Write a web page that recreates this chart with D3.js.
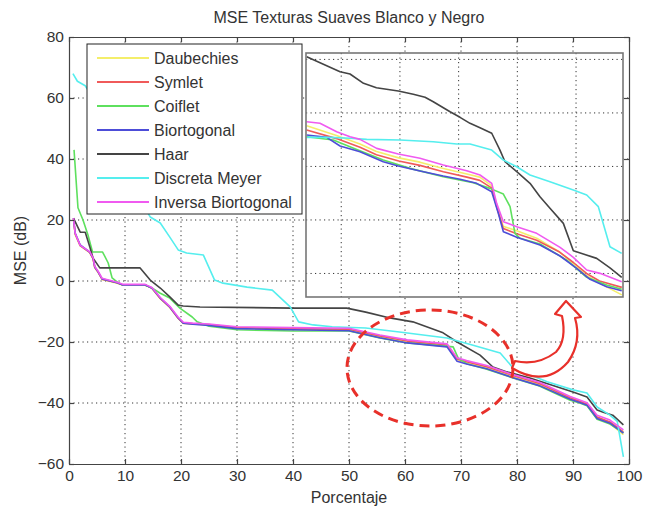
<!DOCTYPE html>
<html lang="en">
<head>
  <meta charset="UTF-8">
  <title>MSE Texturas Suaves</title>
  <style>
    body{margin: 0; background: #fff;}
    svg{display: block; font-family: "Liberation Sans", Arial, Helvetica, sans-serif;}
    .axis path, .axis line{stroke: #444; stroke-width: 1.2px;}
    .axis text{fill: #333; font-size: 15.5px;}
    .grid line{stroke: #333; stroke-width: 1px; stroke-dasharray: 1.2,3.3;}
  </style>
</head>
<body>
  <div id="chart"></div>
  <script src="https://d3js.org/d3.v7.min.js"></script>
  <script>
  // DATA (percent, MSE dB)
  const names = ["Daubechies", "Symlet", "Coiflet", "Biortogonal", "Haar", "Discreta Meyer", "Inversa Biortogonal"];
  const colors = ["#f4ee6a", "#f05a5a", "#5ee05e", "#4d4dd8", "#444444", "#55eeee", "#f05af0"];
  const xTicks = [0, 10, 20, 30, 40, 50, 60, 70, 80, 90, 100];
  const yTicks = [-60, -40, -20, 0, 20, 40, 60, 80];

  const daubechies = [[0.8,20.4],[1.1,15.2],[2,11.5],[3.7,9.3],[4.3,7.2],[4.6,4.3],[5.2,2.8],[5.9,0.5],[8.6,-0.7],[9.6,-1.4],[13.6,-1.4],[14.8,-2.4],[16.3,-5.8],[18,-8.7],[19.5,-12.3],[20.4,-13.9],[22.1,-14.1],[25,-14.5],[30,-15.4],[40,-15.7],[50,-15.9],[55.5,-18.2],[60.4,-19.8],[67.5,-21.1],[69.3,-25.7],[71,-26.6],[74.6,-28.3],[79.3,-31.3],[84,-33.9],[89.5,-38.6],[91.2,-39.7],[92.5,-40.6],[94.3,-45.0],[96.6,-46.8],[99,-50.4]];
  const symlet = [[0.8,20.5],[1.1,15.5],[2,11.6],[3.7,9.4],[4.3,7.3],[4.6,4.5],[5.2,2.9],[5.9,0.6],[8.6,-0.6],[9.6,-1.3],[13.6,-1.3],[14.8,-2.3],[16.3,-5.7],[18,-8.6],[19.5,-12.2],[20.4,-13.8],[22.1,-14.0],[25,-14.3],[30,-15.3],[40,-15.6],[50,-15.8],[55.5,-18.0],[60.4,-19.7],[67.5,-21.0],[69.3,-25.6],[71,-26.5],[74.6,-28.1],[79.3,-31.0],[84,-33.6],[89.5,-38.3],[91.2,-39.4],[92.5,-40.3],[94.3,-44.6],[96.6,-46.2],[99,-49.5]];
  const coiflet = [[0.9,43],[1.6,24],[2.5,20],[3.4,15],[4.2,9.5],[6,9.5],[7,5.9],[7.7,1],[8.8,-0.6],[9.6,-1.3],[13.6,-1.3],[14.8,-2.3],[16.3,-4],[18,-5.6],[19.8,-8.9],[22,-11.8],[22.9,-13.4],[25,-14.8],[30,-16],[40,-16.4],[50,-16.4],[55.5,-18.7],[60.4,-20.3],[68.6,-21.6],[69.5,-25.3],[71,-27.1],[74.6,-28.9],[79.3,-31.8],[84,-34.4],[89.5,-39.1],[91.2,-40.0],[92.5,-40.9],[94.3,-45.3],[96.6,-46.9],[99,-49.8]];
  const biortogonal = [[0.8,20.6],[1.1,15.7],[2,11.8],[3.7,9.5],[4.3,7.5],[4.6,4.6],[5.2,3],[5.9,0.7],[8.6,-0.6],[9.6,-1.3],[13.6,-1.3],[14.8,-2.3],[16.3,-5.6],[18,-8.5],[19.5,-12.1],[20.4,-13.8],[22.1,-14.2],[25,-14.6],[30,-15.6],[40,-16],[50,-16.3],[55.5,-18.6],[60.4,-20.3],[67.5,-21.6],[69.3,-26.3],[71,-27.2],[74.6,-28.8],[79.3,-31.7],[84,-34.3],[89.5,-38.8],[91.2,-39.8],[92.5,-40.7],[94.3,-45.1],[96.6,-46.6],[99,-49.9]];
  const haar = [[0.8,20.6],[2,16],[2.9,16],[3.75,11],[4.3,7.5],[5.5,4.3],[12.7,4.3],[14.5,0.3],[16.3,-2.3],[18,-5.2],[19.5,-7.9],[20.4,-8.2],[23.4,-8.5],[40,-8.9],[49.6,-8.9],[53,-10.2],[57.3,-12.1],[61.4,-13.4],[66.8,-17],[69.3,-20],[73.4,-24.3],[75.7,-28.2],[78.2,-29.8],[82.3,-31.8],[90,-36.4],[92.5,-38],[94.3,-42.3],[95.4,-43],[97.1,-44],[99,-47.2]];
  const meyer = [[0.7,68],[1.5,65.5],[2.9,64],[6,55],[10,35],[14.5,21],[16.3,19],[18,14.4],[19.5,10.2],[21,9.2],[24,8.5],[26,0.3],[27.5,-0.7],[31.8,-2],[36.3,-3],[39.5,-8.5],[41,-13.4],[43.6,-14.4],[47,-15],[53,-15.4],[59,-16.7],[67.5,-18.7],[72,-21],[77,-23.6],[79.3,-28.5],[85.4,-33],[90,-35.7],[92.5,-36.7],[94.3,-41.3],[96.6,-44],[97.9,-46],[99,-57.7]];
  const inversa = [[0.8,20.6],[1.1,15.6],[2,11.7],[3.7,9.6],[4.3,7.6],[4.6,4.8],[5.2,3.2],[5.9,0.9],[8.6,-0.4],[9.6,-1.1],[13.6,-1.1],[14.8,-2.1],[16.3,-5.4],[18,-8.3],[19.5,-11.9],[20.4,-13.5],[22.1,-13.8],[25,-14.1],[30,-15.0],[40,-15.3],[50,-15.5],[55.5,-17.7],[60.4,-19.3],[67.5,-20.6],[69.3,-25.2],[71,-26.1],[74.6,-27.7],[79.3,-30.7],[84,-33.2],[89.5,-37.9],[91.2,-39.0],[92.5,-39.9],[94.3,-44.0],[96.6,-45.6],[99,-48.8]];

  // ZOOM INSET (enlarged detail)
  const insetXTicks = [50, 55, 60, 65, 70];
  const insetYTicks = [-35, -30, -25, -20, -15];
  const inDaubechies = [[47.06,-21.2],[49.6,-22.1],[51.6,-22.9],[53.0,-23.6],[54.9,-24.2],[56.7,-24.6],[58.7,-25.2],[60.7,-25.7],[61.8,-26.0],[62.8,-26.8],[63.3,-28.8],[63.8,-30.6],[64.95,-31.0],[66.65,-31.7],[68.6,-33.0],[69.8,-34.1],[70.9,-35.2],[72.0,-35.9],[73.9,-37.0]];
  const inSymlet = [[47.06,-21.6],[49.6,-22.4],[51.6,-23.2],[53.0,-23.9],[54.9,-24.5],[56.7,-24.9],[58.7,-25.5],[60.7,-26.0],[61.8,-26.3],[62.8,-27.0],[63.3,-29.0],[63.8,-30.8],[64.95,-31.3],[66.65,-31.9],[68.6,-33.0],[69.8,-34.0],[70.9,-35.0],[72.0,-35.7],[73.9,-36.3]];
  const inCoiflet = [[47.06,-22.22],[49.33,-22.53],[51.0,-23.28],[53.58,-24.4],[55.86,-25.18],[58.69,-25.96],[61.25,-26.52],[62.67,-27.05],[63.81,-27.58],[64.38,-28.76],[64.8,-31.25],[65.23,-31.72],[66.93,-32.25],[69.21,-33.75],[70.91,-35.36],[72.61,-36.08],[73.89,-36.48]];
  const inBiortogonal = [[47.06,-22.06],[48.76,-22.28],[49.9,-23.09],[51.6,-23.62],[53.58,-24.56],[54.86,-24.96],[56.71,-25.43],[58.69,-25.9],[60.12,-26.2],[61.54,-26.58],[62.82,-27.36],[63.38,-29.38],[63.81,-31.1],[64.95,-31.62],[66.93,-32.34],[68.64,-33.37],[70.06,-34.52],[71.19,-35.55],[72.61,-36.24],[73.89,-36.61]];
  const inHaar = [[47.06,-14.75],[49.9,-16.15],[50.75,-16.36],[51.9,-17.23],[53.0,-17.64],[54.86,-17.95],[56.14,-18.26],[57.14,-18.54],[57.84,-18.95],[59.27,-19.89],[60.12,-20.41],[60.97,-20.97],[61.82,-21.38],[62.82,-21.9],[63.52,-23.47],[63.95,-24.56],[64.95,-25.49],[66.08,-26.58],[66.93,-27.83],[67.78,-28.91],[68.92,-30.32],[69.77,-32.88],[70.62,-33.18],[71.76,-33.59],[72.89,-34.47],[73.89,-35.36]];
  const inMeyer = [[47.06,-22.28],[49.04,-22.28],[50.75,-22.37],[52.17,-22.47],[55.0,-22.53],[57.84,-22.69],[59.84,-22.9],[60.97,-22.9],[62.82,-23.47],[63.81,-24.4],[64.95,-25.03],[66.08,-25.8],[67.78,-26.43],[69.77,-27.2],[70.91,-27.67],[71.9,-28.76],[72.89,-32.5],[73.89,-33.12]];
  const inInversa = [[47.06,-20.82],[48.19,-20.97],[49.61,-21.76],[50.75,-22.22],[51.6,-22.47],[53.02,-23.31],[54.86,-23.84],[56.71,-24.24],[58.69,-24.87],[60.69,-25.4],[61.82,-25.8],[62.82,-26.58],[63.24,-28.45],[63.81,-30.17],[64.95,-30.63],[66.65,-31.25],[68.64,-32.56],[69.77,-33.49],[70.91,-34.68],[72.04,-34.99],[73.89,-35.77]];

  const mainSeries = [daubechies, symlet, coiflet, biortogonal, haar, meyer, inversa];
  const insetSeries = [inDaubechies, inSymlet, inCoiflet, inBiortogonal, inHaar, inMeyer, inInversa];

  // SETTINGS
  const width = 653;
  const height = 510;
  const margin = {top: 37, right: 24, bottom: 46, left: 69};

  const svg = d3.select("#chart").append("svg")
    .attr("width", width)
    .attr("height", height);

  const x = d3.scaleLinear().domain([0, 100]).range([margin.left, width - margin.right]);
  const y = d3.scaleLinear().domain([-60, 80]).range([height - margin.bottom, margin.top]);

  // GRID
  const grid = svg.append("g").attr("class", "grid");
  grid.selectAll(".gx").data(xTicks.slice(1, -1)).join("line")
    .attr("x1", d => x(d)).attr("x2", d => x(d))
    .attr("y1", y(80)).attr("y2", y(-60));
  grid.selectAll(".gy").data(yTicks.slice(1, -1)).join("line")
    .attr("y1", d => y(d)).attr("y2", d => y(d))
    .attr("x1", x(0)).attr("x2", x(100));

  // LINES
  const line = d3.line().x(d => x(d[0])).y(d => y(d[1]));
  svg.append("defs").append("clipPath").attr("id", "clip")
    .append("rect").attr("x", x(0)).attr("y", y(80)).attr("width", x(100) - x(0)).attr("height", y(-60) - y(80));
  svg.append("g").attr("clip-path", "url(#clip)")
    .selectAll("path").data(mainSeries).join("path")
    .attr("d", line)
    .attr("fill", "none")
    .attr("stroke", (d, i) => colors[i])
    .attr("stroke-width", 1.6)
    .attr("stroke-linejoin", "round");

  // AXES (ticks on all four sides, pointing inward)
  svg.append("g").attr("class", "axis")
    .attr("transform", `translate(0,${y(-60)})`)
    .call(d3.axisBottom(x).tickValues(xTicks).tickSize(-5).tickSizeOuter(0).tickPadding(6));
  svg.append("g").attr("class", "axis")
    .attr("transform", `translate(0,${y(80)})`)
    .call(d3.axisTop(x).tickValues(xTicks).tickSize(-5).tickSizeOuter(0).tickFormat(""));
  svg.append("g").attr("class", "axis")
    .attr("transform", `translate(${x(0)},0)`)
    .call(d3.axisLeft(y).tickValues(yTicks).tickSize(-5).tickSizeOuter(0).tickPadding(5));
  svg.append("g").attr("class", "axis")
    .attr("transform", `translate(${x(100)},0)`)
    .call(d3.axisRight(y).tickValues(yTicks).tickSize(-5).tickSizeOuter(0).tickFormat(""));

  // TITLES
  svg.append("text").attr("x", x(50)).attr("y", 23)
    .attr("text-anchor", "middle").attr("fill", "#333").attr("font-size", 16)
    .text("MSE Texturas Suaves Blanco y Negro");
  svg.append("text").attr("x", x(50)).attr("y", 503)
    .attr("text-anchor", "middle").attr("fill", "#333").attr("font-size", 16)
    .text("Porcentaje");
  svg.append("text").attr("transform", `translate(26,${y(10)}) rotate(-90)`)
    .attr("text-anchor", "middle").attr("fill", "#333").attr("font-size", 16)
    .text("MSE (dB)");

  // INSET
  const ix = d3.scaleLinear().domain([47, 74]).range([306, 623]);
  const iy = d3.scaleLinear().domain([-37.2, -14.4]).range([297, 53]);
  const inset = svg.append("g");
  inset.append("rect").attr("x", ix(47)).attr("y", iy(-14.4))
    .attr("width", ix(74) - ix(47)).attr("height", iy(-37.2) - iy(-14.4))
    .attr("fill", "#fff");
  const igrid = inset.append("g").attr("class", "grid");
  igrid.selectAll(".ix").data(insetXTicks).join("line")
    .attr("x1", d => ix(d)).attr("x2", d => ix(d))
    .attr("y1", iy(-14.4)).attr("y2", iy(-37.2));
  igrid.selectAll(".iy").data(insetYTicks).join("line")
    .attr("y1", d => iy(d)).attr("y2", d => iy(d))
    .attr("x1", ix(47)).attr("x2", ix(74));
  const iline = d3.line().x(d => ix(d[0])).y(d => iy(d[1]));
  inset.selectAll(".il").data(insetSeries).join("path")
    .attr("d", iline)
    .attr("fill", "none")
    .attr("stroke", (d, i) => colors[i])
    .attr("stroke-width", 1.6)
    .attr("stroke-linejoin", "round");
  inset.append("rect").attr("x", ix(47)).attr("y", iy(-14.4))
    .attr("width", ix(74) - ix(47)).attr("height", iy(-37.2) - iy(-14.4))
    .attr("fill", "none").attr("stroke", "#777").attr("stroke-width", 1.6);

  // LEGEND
  const legend = svg.append("g").attr("transform", "translate(87,44)");
  legend.append("rect").attr("width", 215).attr("height", 170)
    .attr("fill", "#fff").attr("stroke", "#222").attr("stroke-width", 1);
  const item = legend.selectAll(".item").data(names).join("g")
    .attr("transform", (d, i) => `translate(0,${14 + i * 24})`);
  item.append("line").attr("x1", 10).attr("x2", 62)
    .attr("stroke", (d, i) => colors[i]).attr("stroke-width", 1.8);
  item.append("text").attr("x", 67).attr("dy", "0.36em")
    .attr("fill", "#333").attr("font-size", 16)
    .text(d => d);

  // ANNOTATIONS
  svg.append("ellipse")
    .attr("cx", 430).attr("cy", 368).attr("rx", 83).attr("ry", 58)
    .attr("fill", "none").attr("stroke", "#e8302a").attr("stroke-width", 3)
    .attr("stroke-dasharray", "10,6");
  svg.append("path")
    .attr("d", "M512,368 Q545,388 568,362 Q582,342 575,318 L581,317 L566,301 L555,314 L562,316 Q567,340 556,352 Q538,366 515,361 Z")
    .attr("fill", "#fff").attr("stroke", "#e8302a").attr("stroke-width", 2.2)
    .attr("stroke-linejoin", "round");
  </script>
</body>
</html>
